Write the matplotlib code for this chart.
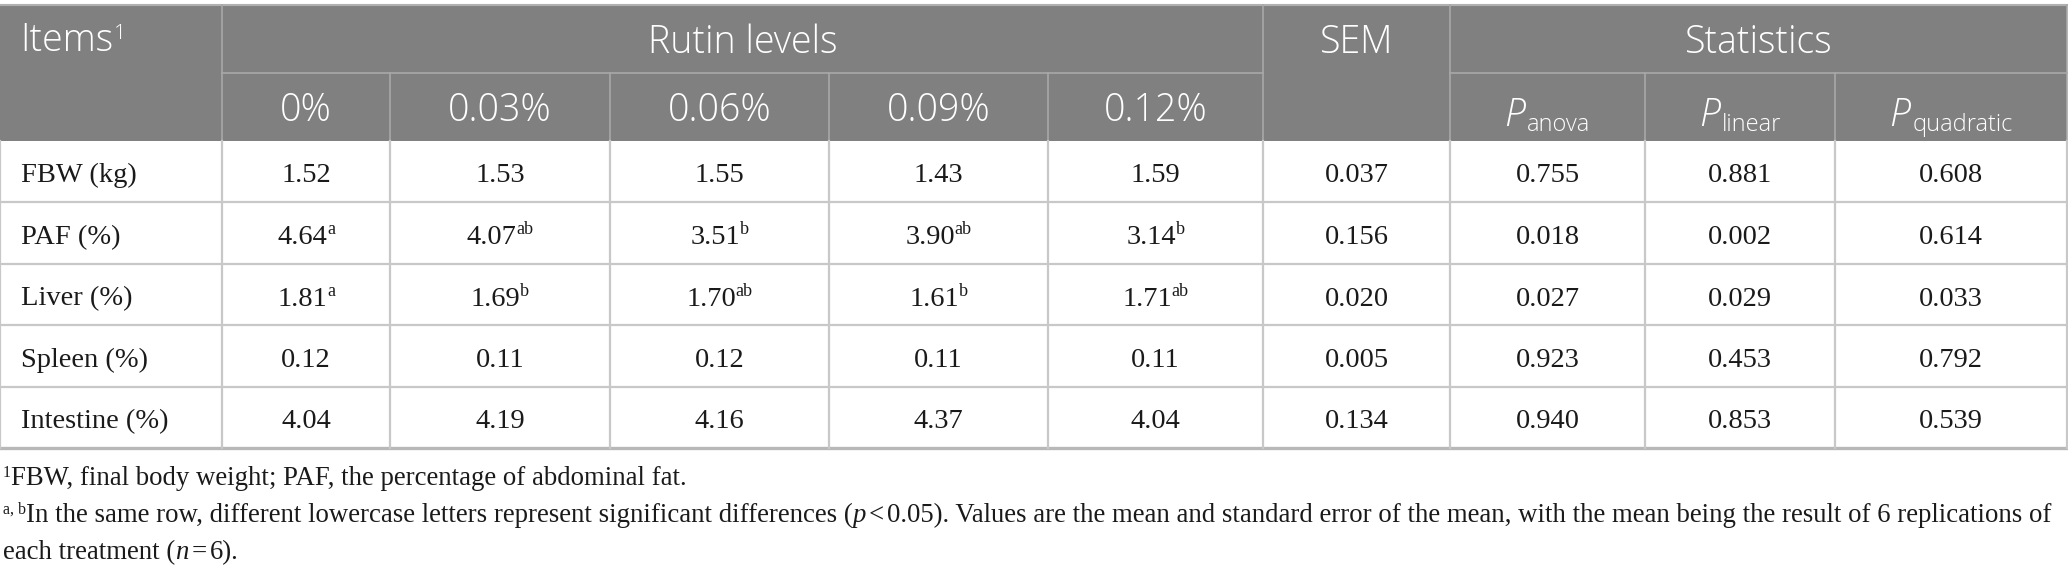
import matplotlib
matplotlib.use("Agg")
import matplotlib.pyplot as plt

# table content
items = ["FBW (kg)", "PAF (%)", "Liver (%)", "Spleen (%)", "Intestine (%)"]
levels = ["0%", "0.03%", "0.06%", "0.09%", "0.12%"]
means = [
    [1.52, 1.53, 1.55, 1.43, 1.59],
    [4.64, 4.07, 3.51, 3.90, 3.14],
    [1.81, 1.69, 1.70, 1.61, 1.71],
    [0.12, 0.11, 0.12, 0.11, 0.11],
    [4.04, 4.19, 4.16, 4.37, 4.04],
]
letters = [
    ["", "", "", "", ""],
    ["a", "ab", "b", "ab", "b"],
    ["a", "b", "ab", "b", "ab"],
    ["", "", "", "", ""],
    ["", "", "", "", ""],
]
sem = [0.037, 0.156, 0.020, 0.005, 0.134]
p_anova = [0.755, 0.018, 0.027, 0.923, 0.940]
p_linear = [0.881, 0.002, 0.029, 0.453, 0.853]
p_quadratic = [0.608, 0.614, 0.033, 0.792, 0.539]
p_subs = ["anova", "linear", "quadratic"]

W, H = 2068, 575
SANS = "Open Sans"
SERIF = "Liberation Serif"
HEAD_BG = "#808080"
GRID = "#c8c8c8"

# column edges and row edges in pixels
col_x = [0, 222, 390, 610, 829, 1048, 1263, 1450, 1645, 1835, 2067]
head_y = [5, 73, 141]
row_y = [141, 202, 264, 325, 387, 448]

fig = plt.figure(figsize=(W / 100, H / 100), dpi=100)
ax = fig.add_axes([0, 0, 1, 1])
ax.set_xlim(0, W)
ax.set_ylim(H, 0)
ax.axis("off")
renderer = fig.canvas.get_renderer()


def draw_runs(x, y, runs, ha="left"):
    """runs: (text, text kwargs, dy, gap after)"""
    arts = []
    total = 0
    for s, kw, dy, gap in runs:
        t = ax.text(0, y + dy, s, va="baseline", ha="left", **kw)
        w = t.get_window_extent(renderer).width
        arts.append((t, w, gap))
        total += w + gap
    total -= arts[-1][2]
    cur = x - total / 2 if ha == "center" else x
    for t, w, gap in arts:
        t.set_x(cur)
        cur += w + gap
    return arts, total


# header background
ax.fill_between([col_x[0], col_x[-1]], head_y[0], head_y[-1], color=HEAD_BG, lw=0)
ax.plot([col_x[0], col_x[-1]], [head_y[0]] * 2, color="#b0b0b0", lw=1.5)
ax.plot([col_x[1], col_x[6]], [head_y[1]] * 2, color="#a8a8a8", lw=1.2)
ax.plot([col_x[7], col_x[-1]], [head_y[1]] * 2, color="#a8a8a8", lw=1.2)
for i in range(1, len(col_x) - 1):
    top = head_y[0] if i in (1, 6, 7) else head_y[1]
    ax.plot([col_x[i]] * 2, [top, head_y[-1]], color="#a8a8a8", lw=1.2)
ax.plot([col_x[-1]] * 2, [head_y[0], head_y[-1]], color="#a8a8a8", lw=1.2)

hk = dict(family=SANS, color="white", fontsize=27, fontweight="light")
hs = dict(hk, fontsize=15)
draw_runs(20, 51, [("Items", hk, 0, 1), ("1", hs, -12, 0)])
draw_runs((col_x[1] + col_x[6]) / 2, 53, [("Rutin levels", hk, 0, 0)], ha="center")
draw_runs((col_x[6] + col_x[7]) / 2, 53, [("SEM", hk, 0, 0)], ha="center")
draw_runs((col_x[7] + col_x[-1]) / 2, 53, [("Statistics", hk, 0, 0)], ha="center")
for j, lev in enumerate(levels):
    draw_runs((col_x[j + 1] + col_x[j + 2]) / 2, 121, [(lev, hk, 0, 0)], ha="center")
for j, sub in enumerate(p_subs):
    cx = (col_x[j + 7] + col_x[j + 8]) / 2
    draw_runs(cx, 126, [("P", dict(hk, fontstyle="italic"), 0, 2),
                        (sub, dict(hk, fontsize=17), 5, 0)], ha="center")

# body grid
for y in row_y[1:-1]:
    ax.plot([col_x[0], col_x[-1]], [y, y], color=GRID, lw=1.6)
ax.plot([col_x[0], col_x[-1]], [row_y[-1]] * 2, color="#b8b8b8", lw=2.4)
for x in col_x:
    ax.plot([x, x], [row_y[0], row_y[-1]], color=GRID, lw=1.6)

bk = dict(family=SERIF, color="#1a1a1a", fontsize=20.5)
bs = dict(bk, fontsize=13)
for i, item in enumerate(items):
    base = (row_y[i] + row_y[i + 1]) / 2 + 11
    draw_runs(21, base, [(item, bk, 0, 0)])
    for j in range(len(levels)):
        runs = [(f"{means[i][j]:.2f}", bk, 0, 0)]
        if letters[i][j]:
            runs.append((letters[i][j], bs, -10, 0))
        draw_runs((col_x[j + 1] + col_x[j + 2]) / 2, base, runs, ha="center")
    extra = [sem[i], p_anova[i], p_linear[i], p_quadratic[i]]
    for k, v in enumerate(extra):
        draw_runs((col_x[k + 6] + col_x[k + 7]) / 2, base, [(f"{v:.3f}", bk, 0, 0)], ha="center")


# footnotes, sized so the long line fills the width
def foot_lines(fs):
    fk = dict(family=SERIF, color="#1a1a1a", fontsize=fs)
    fi = dict(fk, fontstyle="italic")
    fsup = dict(fk, fontsize=fs * 0.6)
    return [
        (485, [("1", fsup, -8, 0), ("FBW, final body weight; PAF, the percentage of abdominal fat.", fk, 0, 0)]),
        (522, [("a, b", fsup, -8, 0),
               ("In the same row, different lowercase letters represent significant differences (", fk, 0, 0),
               ("p", fi, 0, 3), ("<", fk, 0, 3),
               ("0.05). Values are the mean and standard error of the mean, with the mean being the result of 6 replications of", fk, 0, 0)]),
        (559, [("each treatment (", fk, 0, 0), ("n", fi, 0, 3), ("=", fk, 0, 3), ("6).", fk, 0, 0)]),
    ]


fs0 = 18
arts, total = draw_runs(3, 522, foot_lines(fs0)[1][1])
for t, _, _ in arts:
    t.remove()
fs = fs0 * (2053 - 3) / total
for y, runs in foot_lines(fs):
    draw_runs(3, y, runs)

fig.savefig("out.png", dpi=100)
